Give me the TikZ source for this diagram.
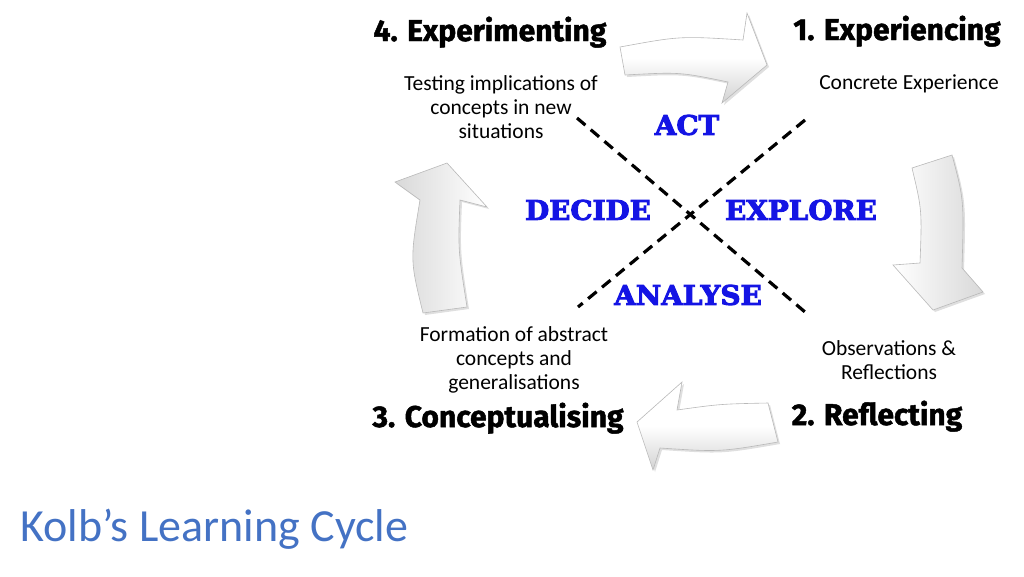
\documentclass[tikz,border=0pt]{standalone}
\usepackage{fontspec}
\usepackage{xcolor}
\usetikzlibrary{shadows}
\setmainfont{Carlito}
\newfontfamily\headfont{Fira Sans Bold}[FakeBold=1.6]
\newfontfamily\labelfont{DejaVu Serif Bold}[FakeStretch=1.03, FakeBold=3.5]
\definecolor{kolbblue}{RGB}{20,20,228}
\definecolor{titleblue}{RGB}{68,114,196}
\tikzset{
  stagehead/.style={font=\headfont\fontsize{30}{32}\selectfont, anchor=base, inner sep=0pt},
  stagetext/.style={font=\fontsize{21.5}{24}\selectfont, align=center, inner sep=0pt},
  quadlabel/.style={font=\labelfont\fontsize{27}{30}\selectfont, text=kolbblue, inner sep=0pt},
  crossline/.style={line width=3.2pt, dash pattern=on 11pt off 7pt},
  blockarrow/.style={draw=gray!55, line width=0.6pt,
    drop shadow={shadow xshift=2pt, shadow yshift=-2pt, opacity=0.25}}
}
\begin{document}
\begin{tikzpicture}[x=1pt, y=-1pt]
\useasboundingbox (0,0) rectangle (1024,576);

% the four block arrows
\path[blockarrow, top color=white, bottom color=gray!35, middle color=white]
  (620,47) .. controls (680,36) .. (743,40) -- (747,13) -- (767,65) -- (722,103)
  -- (728,82) .. controls (680,72) .. (625,75) -- cycle;
\path[blockarrow, left color=white, right color=gray!30]
  (912,168) -- (952,155) .. controls (964,200) .. (962,268) -- (983,292) -- (933,310)
  -- (893,265) -- (920,263) .. controls (922,210) .. cycle;
\path[blockarrow, top color=white, bottom color=gray!35, middle color=white]
  (778,442) .. controls (720,452) .. (660,448) -- (653,470) -- (637,422) -- (682,382)
  -- (677,410) .. controls (720,404) .. (768,403) -- cycle;
\path[blockarrow, right color=white, left color=gray!30]
  (423,313) .. controls (410,260) .. (420,200) -- (395,182) -- (447,163) -- (487,207)
  -- (460,200) .. controls (458,250) .. (467,307) -- cycle;

% dashed cross
\coordinate (tl) at (577,118);
\coordinate (br) at (805,312);
\coordinate (tr) at (805,120);
\coordinate (bl) at (578,307);
\draw[crossline] (tl) -- (br);
\draw[crossline] (tr) -- (bl);

% stage headings
\node[stagehead] (exper) at (490,41) {4. Experimenting};
\node[stagehead] (experi) at (897,40) {1. Experiencing};
\node[stagehead] (concept) at (498,427) {3. Conceptualising};
\node[stagehead] (reflect) at (877,425) {2. Reflecting};

% stage descriptions
\node[stagetext] (testing) at (501,107) {Testing implications of\\concepts in new\\situations};
\node[stagetext, anchor=base] (concrete) at (909,89) {Concrete Experience};
\node[stagetext] (formation) at (514,360) {Formation of abstract\\concepts and\\generalisations};
\node[stagetext] (observ) at (889,360) {Observations \&\\Reflections};

% quadrant labels
\node[quadlabel] (act) at (687,125) {ACT};
\node[quadlabel] (decide) at (588,210) {DECIDE};
\node[quadlabel] (explore) at (801,210) {EXPLORE};
\node[quadlabel] (analyse) at (688,295) {ANALYSE};

\node[font=\fontsize{46}{50}\selectfont, text=titleblue, anchor=base west, inner sep=0pt] (title) at (20,541) {Kolb’s Learning Cycle};
\end{tikzpicture}
\end{document}
